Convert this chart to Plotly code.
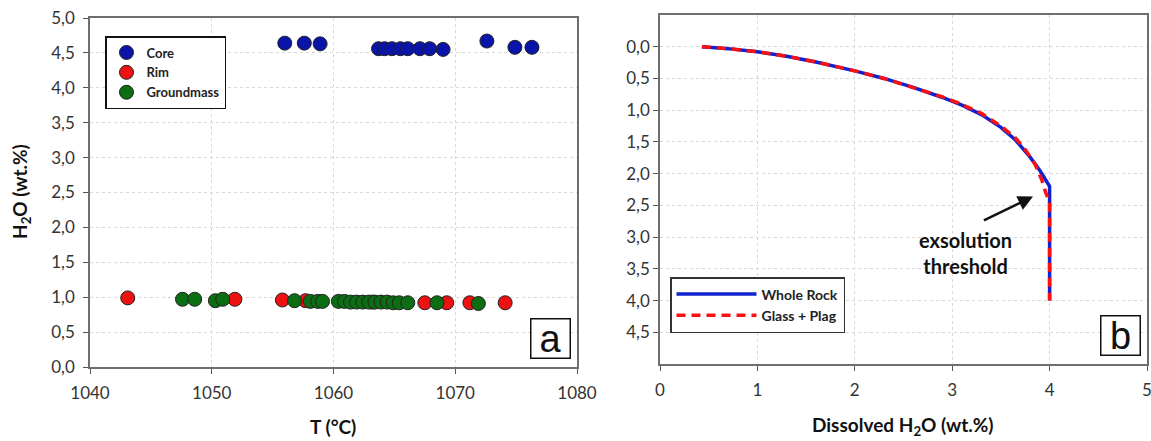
import plotly.graph_objects as go

# ---------------- Panel a data ----------------
core_T = [1056.0, 1057.6, 1058.9, 1063.7, 1064.2, 1064.8, 1065.5, 1066.1, 1067.1, 1067.9, 1069.0, 1072.6, 1074.9, 1076.3]
core_H2O = [4.64, 4.64, 4.63, 4.56, 4.56, 4.56, 4.56, 4.56, 4.56, 4.56, 4.55, 4.67, 4.58, 4.58]

rim_T = [1043.1, 1051.9, 1055.8, 1057.7, 1063.2, 1067.5, 1069.3, 1071.2, 1074.1]
rim_H2O = [0.99, 0.97, 0.96, 0.95, 0.93, 0.92, 0.92, 0.92, 0.92]

gm_T = [1047.6, 1048.6, 1050.3, 1050.9, 1056.8, 1058.1, 1058.7, 1059.1, 1060.4, 1060.9, 1061.4, 1061.9,
        1062.4, 1062.9, 1063.4, 1063.9, 1064.4, 1064.9, 1065.4, 1066.1, 1068.5, 1071.9]
gm_H2O = [0.97, 0.97, 0.95, 0.97, 0.95, 0.94, 0.94, 0.94, 0.94, 0.94, 0.93, 0.93,
          0.93, 0.93, 0.93, 0.93, 0.93, 0.92, 0.92, 0.92, 0.92, 0.91]

# ---------------- Panel b data ----------------
wr_H2O = [0.43, 0.7, 1.0, 1.3, 1.6, 2.0, 2.3, 2.6, 2.9, 3.1, 3.3, 3.5, 3.65, 3.8, 3.9, 4.0, 4.0]
wr_P = [0.0, 0.03, 0.08, 0.15, 0.24, 0.38, 0.50, 0.64, 0.80, 0.92, 1.07, 1.27, 1.47, 1.74, 1.95, 2.2, 4.0]

gp_H2O = [0.43, 0.7, 1.0, 1.3, 1.6, 2.0, 2.3, 2.6, 2.9, 3.1, 3.3, 3.5, 3.65, 3.75, 3.85, 3.92, 3.96, 4.0, 4.0]
gp_P = [0.0, 0.03, 0.08, 0.15, 0.24, 0.38, 0.50, 0.64, 0.79, 0.91, 1.05, 1.25, 1.44, 1.62, 1.85, 2.1, 2.3, 2.45, 4.0]

y_ticks_a = [0.0, 0.5, 1.0, 1.5, 2.0, 2.5, 3.0, 3.5, 4.0, 4.5, 5.0]
y_ticks_b = [0.0, 0.5, 1.0, 1.5, 2.0, 2.5, 3.0, 3.5, 4.0, 4.5]
x_ticks_a = [1040, 1050, 1060, 1070, 1080]
x_ticks_b = [0, 1, 2, 3, 4, 5]

FONT = "Lato"
W, H = 1151, 441

fig = go.Figure()

mk = dict(size=14, line=dict(color="#222222", width=1))
fig.add_trace(go.Scatter(x=core_T, y=core_H2O, mode="markers", name="Core",
                         marker=dict(color="#0a14a8", **mk), xaxis="x", yaxis="y", legend="legend"))
fig.add_trace(go.Scatter(x=rim_T, y=rim_H2O, mode="markers", name="Rim",
                         marker=dict(color="#ee1111", **mk), xaxis="x", yaxis="y", legend="legend"))
fig.add_trace(go.Scatter(x=gm_T, y=gm_H2O, mode="markers", name="Groundmass",
                         marker=dict(color="#0b6e12", **mk), xaxis="x", yaxis="y", legend="legend"))

fig.add_trace(go.Scatter(x=wr_H2O, y=wr_P, mode="lines", name="Whole Rock",
                         line=dict(color="#1022cc", width=3.5), xaxis="x2", yaxis="y2", legend="legend2"))
fig.add_trace(go.Scatter(x=gp_H2O, y=gp_P, mode="lines", name="Glass + Plag",
                         line=dict(color="#ff1010", width=3.5, dash="9px,6px"), xaxis="x2", yaxis="y2", legend="legend2"))

dom_xa = [90 / W, 577 / W]
dom_xb = [660 / W, 1147 / W]
dom_ya = [1 - 367 / H, 1 - 18 / H]
dom_yb = [1 - 364 / H, 1 - 15 / H]

axis_common = dict(showline=True, mirror=True, linecolor="#6e6e6e", linewidth=1.5,
                   ticks="outside", ticklen=5, tickcolor="#555555", automargin=False,
                   ticklabeloverflow="allow",
                   showgrid=True, gridcolor="#d8d8d8", griddash="dot", gridwidth=1,
                   zeroline=False, tickfont=dict(family=FONT, size=17, color="#333333"))

fig.update_layout(
    width=W, height=H,
    margin=dict(l=0, r=0, t=0, b=0, autoexpand=False),
    paper_bgcolor="white", plot_bgcolor="white",
    separators=", ",
    font=dict(family=FONT, color="#222222"),
    xaxis=dict(domain=dom_xa, range=[1040, 1080], tickvals=x_ticks_a, tickformat="d",
               anchor="y", ticklabelstandoff=5, **axis_common),
    yaxis=dict(domain=dom_ya, range=[0, 5], tickvals=y_ticks_a, tickformat=".1f",
               anchor="x", ticklabelstandoff=5, **axis_common),
    xaxis2=dict(domain=dom_xb, range=[0, 5], tickvals=x_ticks_b, tickformat="d",
                anchor="y2", ticklabelstandoff=5, **axis_common),
    yaxis2=dict(domain=dom_yb, range=[5.0, -0.5], tickvals=y_ticks_b, tickformat=".1f",
                anchor="x2", **axis_common),
    legend=dict(x=105 / W, y=1 - 36 / H, xanchor="left", yanchor="top",
                bgcolor="white", bordercolor="#111111", borderwidth=1.5,
                font=dict(family=FONT, size=13, color="#222222", weight="bold"),
                tracegroupgap=0, itemsizing="trace"),
    legend2=dict(x=670 / W, y=1 - 277 / H, xanchor="left", yanchor="top",
                 bgcolor="white", bordercolor="#333333", borderwidth=1.5,
                 font=dict(family=FONT, size=14, color="#222222", weight="bold"),
                 itemwidth=80),
    showlegend=True,
)

ann = []
# axis titles
ann.append(dict(text="<b>T (°C)</b>", x=333 / W, y=1 - 426 / H, xref="paper", yref="paper",
                xanchor="center", yanchor="middle",
                showarrow=False, font=dict(family=FONT, size=19, color="#111111")))
ann.append(dict(text="<b>Dissolved H<sub>2</sub>O (wt.%)</b>", x=903 / W, y=1 - 426 / H, xref="paper", yref="paper",
                xanchor="center", yanchor="middle",
                showarrow=False, font=dict(family=FONT, size=19, color="#111111")))
ann.append(dict(text="<b>H<sub>2</sub>O (wt.%)</b>", x=21 / W, y=1 - 192 / H, xref="paper", yref="paper",
                xanchor="center", yanchor="middle",
                showarrow=False, textangle=-90, font=dict(family=FONT, size=19, color="#111111")))
# panel labels
ann.append(dict(text="a", x=550 / W, y=1 - 338 / H, xref="paper", yref="paper", showarrow=False,
                xanchor="center", yanchor="middle",
                width=38, height=38, bordercolor="#111111", borderwidth=1.5, bgcolor="white",
                font=dict(family="Liberation Sans", size=38, color="#111111"), borderpad=0))
ann.append(dict(text="b", x=1120 / W, y=1 - 335 / H, xref="paper", yref="paper", showarrow=False,
                xanchor="center", yanchor="middle",
                width=38, height=38, bordercolor="#111111", borderwidth=1.5, bgcolor="white",
                font=dict(family="Liberation Sans", size=38, color="#111111"), borderpad=0))
# exsolution threshold
ann.append(dict(text="<b>exsolution<br>threshold</b>", x=3.14, y=3.25, xref="x2", yref="y2",
                showarrow=False, font=dict(family=FONT, size=20, color="#111111")))
ann.append(dict(text="", x=3.83, y=2.36, ax=3.31, ay=2.75, xref="x2", yref="y2", axref="x2", ayref="y2",
                showarrow=True, arrowhead=2, arrowsize=1.2, arrowwidth=2.5, arrowcolor="#111111"))
fig.update_layout(annotations=ann)

fig.write_html("out.html", config={"displayModeBar": False},
               post_script="document.body.style.margin='0';document.body.style.overflow='hidden';")
